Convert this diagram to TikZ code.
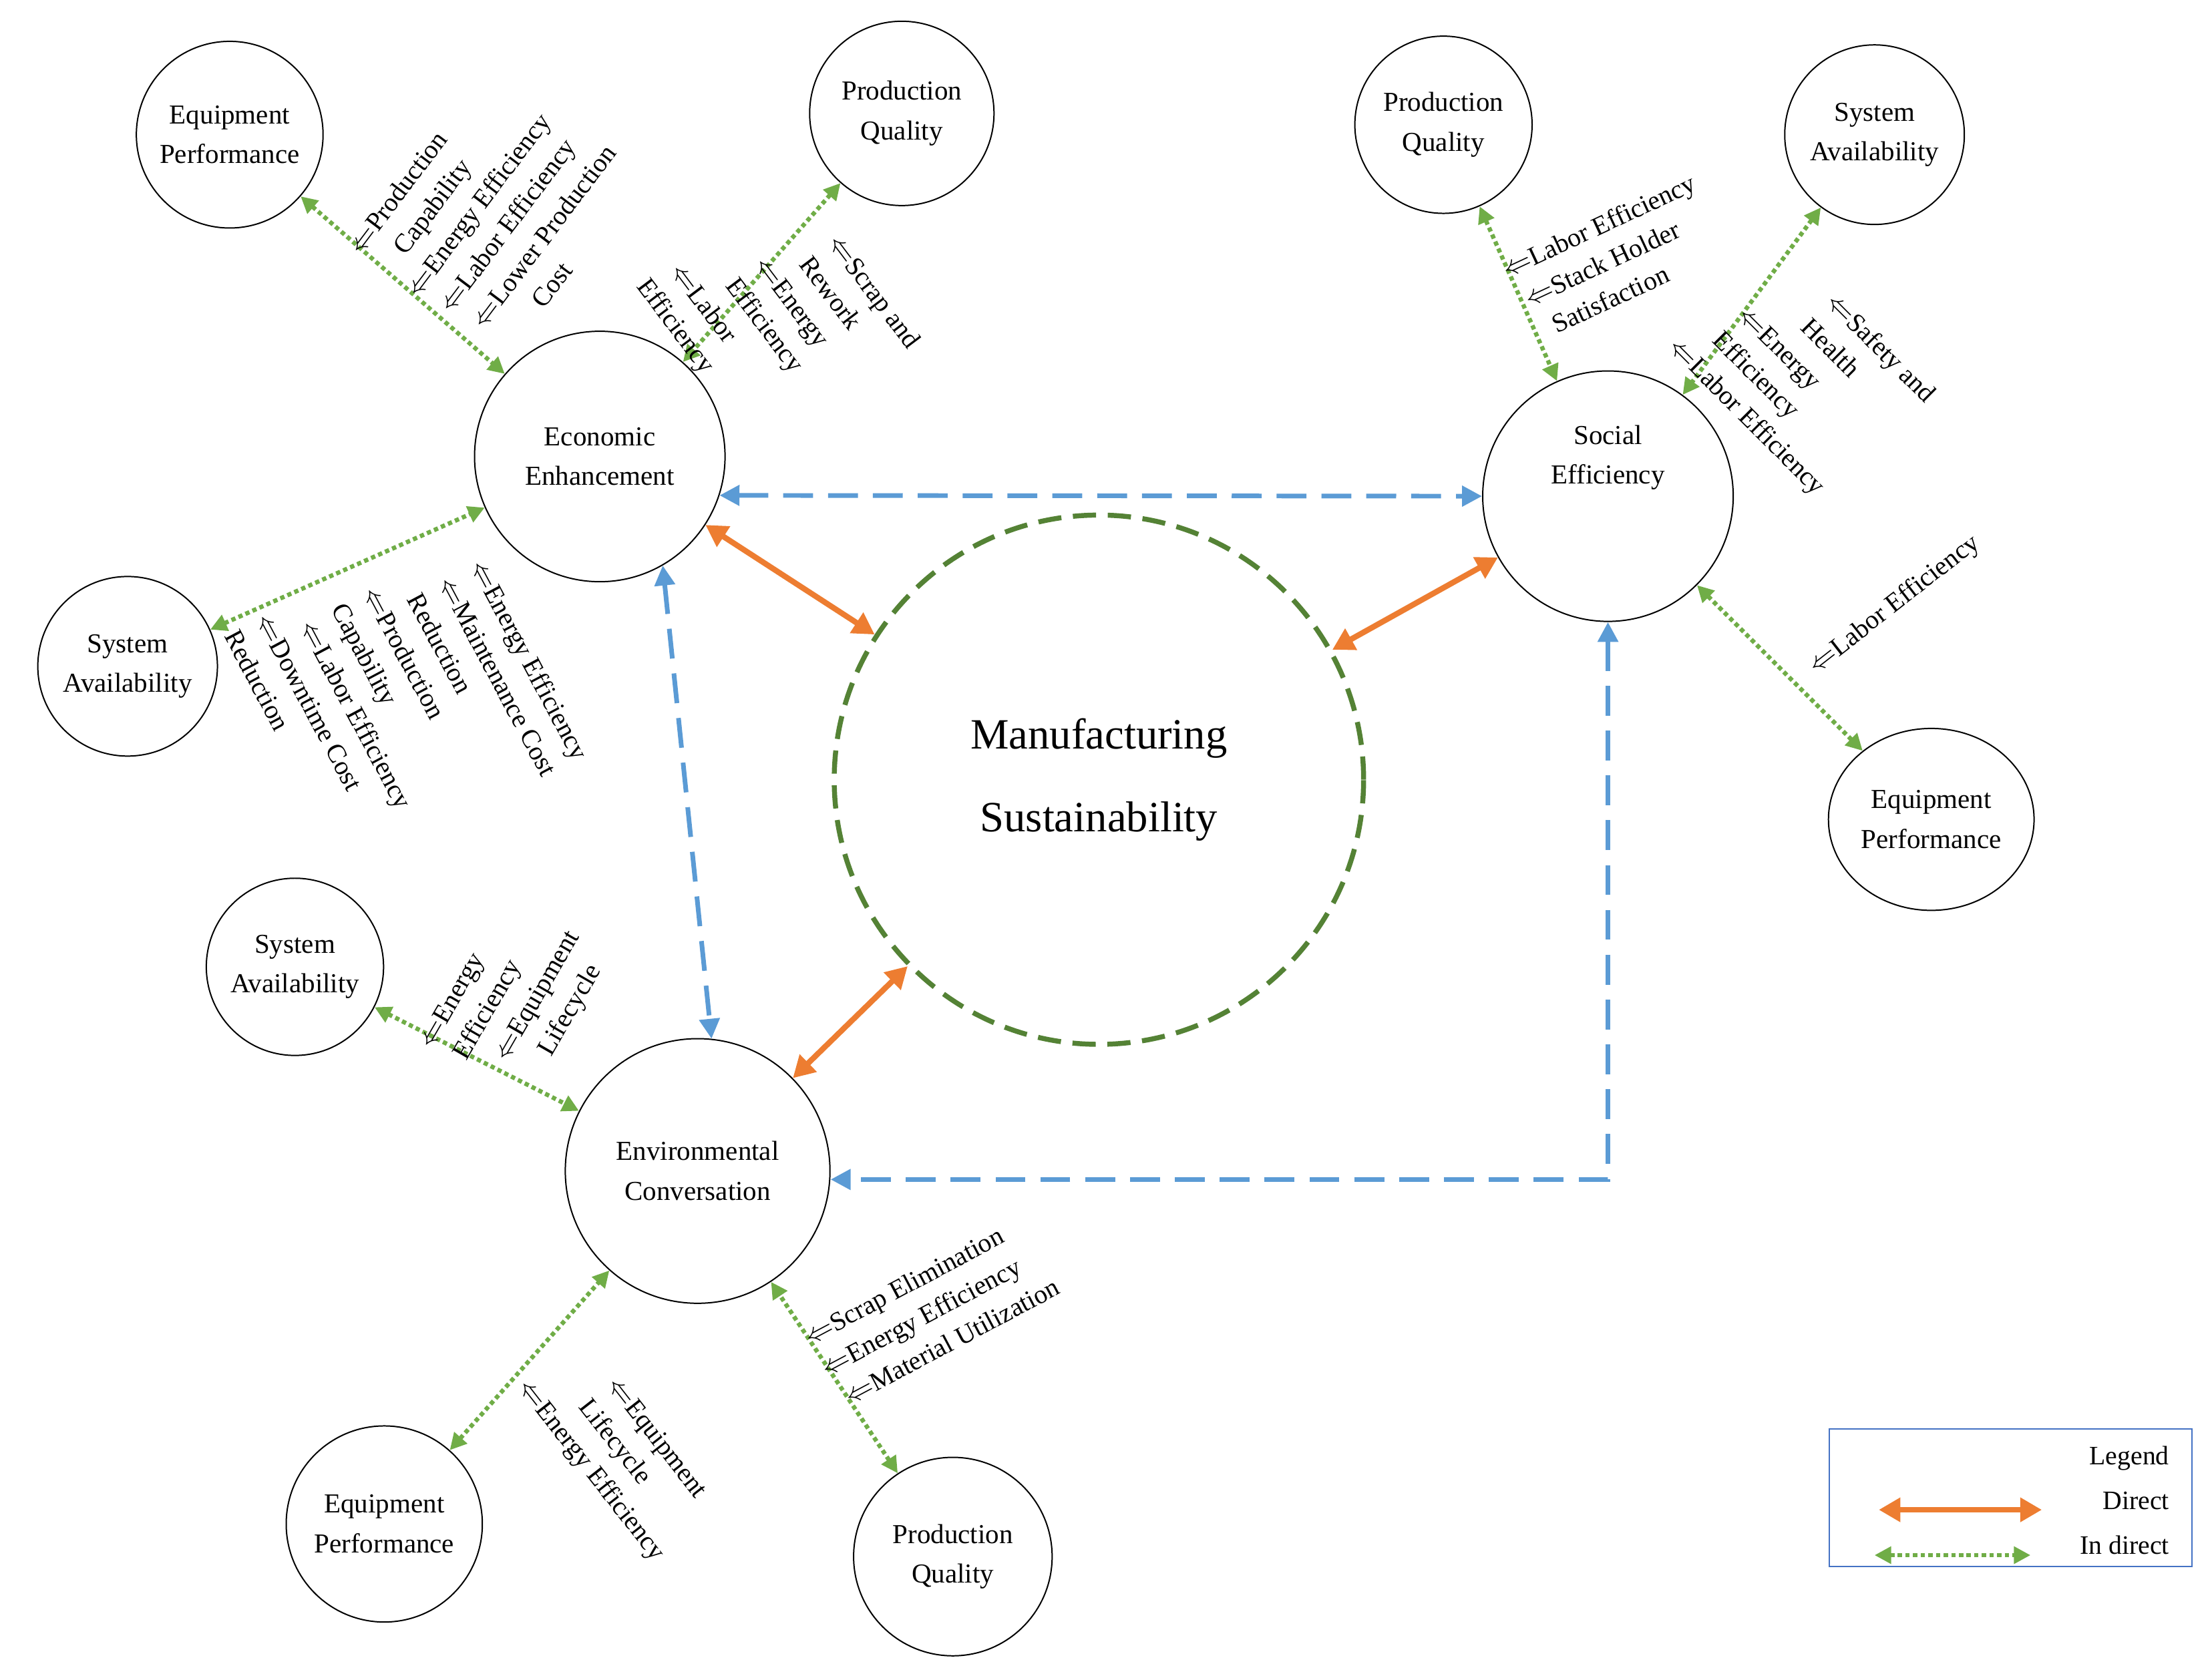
\documentclass[tikz,border=0pt]{standalone}
\usepackage{fontspec}
\setmainfont{Liberation Serif}
\usetikzlibrary{arrows.meta,shapes.geometric}
\definecolor{dgreen}{RGB}{84,130,53}
\definecolor{lgreen}{RGB}{112,173,71}
\definecolor{orng}{RGB}{237,125,49}
\definecolor{blu}{RGB}{91,155,213}
\definecolor{lbox}{RGB}{68,114,196}
\begin{document}
\begin{tikzpicture}[x=0.03cm,y=-0.03cm,
  circ/.style={draw,circle,line width=0.8pt,align=center,inner sep=0pt,font=\fontsize{16.5}{24}\selectfont},
  lab/.style={align=left,font=\fontsize{16}{21.5}\selectfont,inner sep=0pt},
  ind/.style={lgreen,line width=2.6pt,dotted,{Triangle[length=10pt,width=10pt]}-{Triangle[length=10pt,width=10pt]}},
  dir/.style={orng,line width=3.4pt,{Triangle[length=13pt,width=14pt]}-{Triangle[length=13pt,width=14pt]}},
  bl/.style={blu,line width=2.8pt,dash pattern=on 18pt off 9pt},
  btip/.style={{Triangle[length=12pt,width=12pt]}-{Triangle[length=12pt,width=12pt]}}]
\useasboundingbox (0,0) rectangle (1560,1182);
% nodes
\node[circ,minimum size=3.95cm] (ep1) at (162,95) {Equipment\\Performance};
\node[circ,minimum size=3.9cm] (pq1) at (636,80) {Production\\Quality};
\node[circ,minimum size=5.3cm] (econ) at (423,322) {Economic\\Enhancement};
\node[circ,minimum size=3.8cm] (sa1) at (90,470) {System\\Availability};
\node[circ,minimum size=3.75cm] (pq2) at (1018,88) {Production\\Quality};
\node[circ,minimum size=3.8cm] (sa2) at (1322,95) {System\\Availability};
\node[circ,minimum size=5.3cm] (soc) at (1134,350) {Social\\Efficiency\\[26pt]};
\node[circ,shape=ellipse,minimum width=4.35cm,minimum height=3.85cm] (ep2) at (1362,578) {Equipment\\Performance};
\node[draw=dgreen,line width=3pt,dash pattern=on 14pt off 7pt,circle,minimum size=11.2cm,align=center,font=\fontsize{26}{50}\selectfont] (ms) at (775,550) {Manufacturing\\Sustainability};
\node[circ,minimum size=3.75cm] (sa3) at (208,682) {System\\Availability};
\node[circ,minimum size=5.6cm] (env) at (492,826) {Environmental\\Conversation};
\node[circ,minimum size=4.15cm] (ep3) at (271,1075) {Equipment\\Performance};
\node[circ,minimum size=4.2cm] (pq3) at (672,1098) {Production\\Quality};
% direct
\draw[dir] (econ) -- (ms);
\draw[dir] (soc) -- (ms);
\draw[dir] (env) -- (ms);
% blue dashed
\draw[bl,btip] (econ.-18) -- (soc.west);
\draw[bl,btip] (econ.-60) -- (env.84);
\coordinate (corner) at (1134,832);
\draw[bl,btip] (soc.south) -- (corner) -- (env.east |- corner);
% indirect
\draw[ind] (ep1) -- (econ);
\draw[ind] (pq1) -- (econ);
\draw[ind] (sa1) -- (econ);
\draw[ind] (sa3) -- (env);
\draw[ind] (ep3) -- (env);
\draw[ind] (pq3) -- (env);
\draw[ind] (pq2) -- (soc);
\draw[ind] (sa2) -- (soc);
\draw[ind] (ep2) -- (soc);
% labels
\node[lab,rotate=53] (l1) at (350,148) {$\Leftarrow$Production\\\quad Capability\\$\Leftarrow$Energy Efficiency\\\;$\Leftarrow$Labor Efficiency\\\;\;$\Leftarrow$Lower Production\\\qquad\; Cost};
\node[lab,rotate=-53] (l2) at (548,222) {\qquad\quad$\Leftarrow$Scrap and\\\qquad\quad Rework\\\qquad$\Leftarrow$Energy\\\qquad Efficiency\\\;$\Leftarrow$Labor\\ Efficiency};
\node[lab,rotate=-62] (l3) at (287,490) {\qquad$\Leftarrow$Energy Efficiency\\\qquad$\Leftarrow$Maintenance Cost\\\qquad Reduction\\\quad$\Leftarrow$Production\\\quad Capability\\\quad$\Leftarrow$Labor Efficiency\\$\Leftarrow$Downtime Cost\\Reduction};
\node[lab,rotate=60] (l4) at (364,705) {$\Leftarrow$Energy\\\;Efficiency\\\quad$\Leftarrow$Equipment\\\qquad Lifecycle};
\node[lab,rotate=28] (l5) at (657,925) {$\Leftarrow$Scrap Elimination\\$\Leftarrow$Energy Efficiency\\\;$\Leftarrow$Material Utilization};
\node[lab,rotate=-52] (l6) at (436,1022) {\qquad$\Leftarrow$Equipment\\\qquad Lifecycle\\$\Leftarrow$Energy Efficiency};
\node[lab,rotate=25] (l7) at (1138,182) {$\Leftarrow$Labor Efficiency\\\;$\Leftarrow$Stack Holder\\\;\; Satisfaction};
\node[lab,rotate=-45] (l8) at (1270,262) {\qquad\quad$\Leftarrow$Safety and\\\qquad\quad Health\\\quad$\Leftarrow$Energy\\\quad Efficiency\\$\Leftarrow$Labor Efficiency};
\node[lab,rotate=38] (l9) at (1336,427) {$\Leftarrow$Labor Efficiency};
% legend
\node[draw=lbox,line width=0.8pt,minimum width=7.68cm,minimum height=2.91cm,inner sep=0pt] (leg) at (1418,1056.5) {};
\node[lab,align=right,anchor=north east,font=\fontsize{16}{27}\selectfont] (legt) at (1530,1020) {Legend\\Direct\\In direct};
\coordinate (da) at (1325,1065);
\coordinate (db) at (1440,1065);
\coordinate (ia) at (1322,1097);
\coordinate (ib) at (1432,1097);
\draw[dir] (da) -- (db);
\draw[ind] (ia) -- (ib);
\end{tikzpicture}
\end{document}
